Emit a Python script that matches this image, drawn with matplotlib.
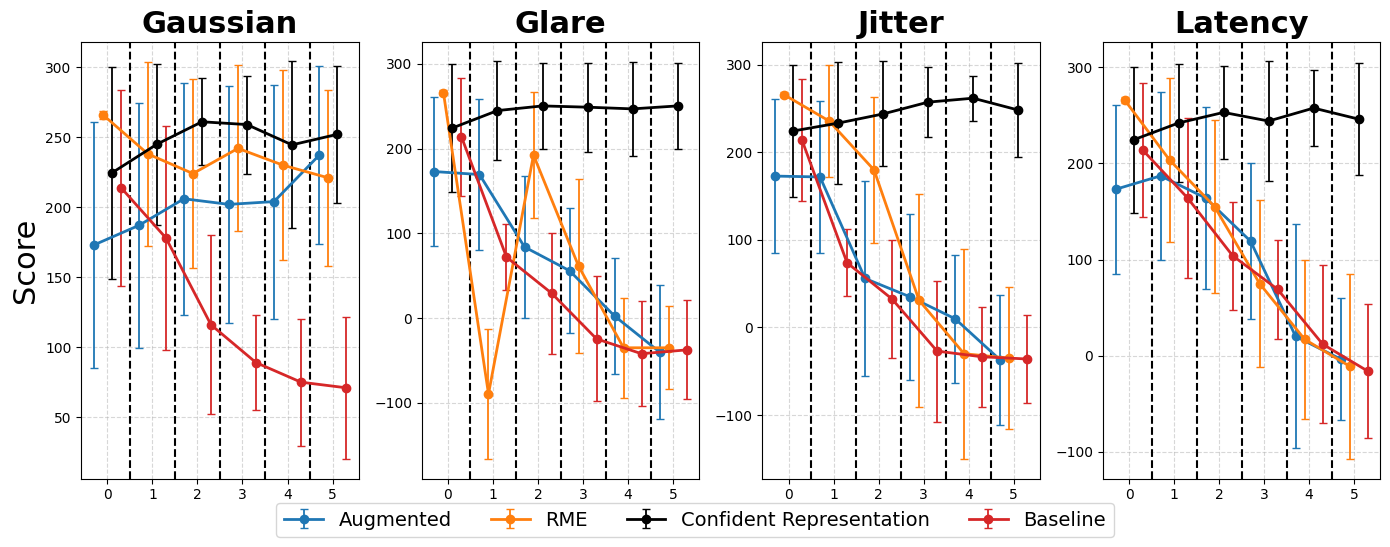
import numpy as np
import matplotlib
matplotlib.use("Agg")
import matplotlib.pyplot as plt

# ---------------- DATA ----------------
panels = ["Gaussian", "Glare", "Jitter", "Latency"]
methods = ["Augmented", "RME", "Confident Representation", "Baseline"]
colors = ["tab:blue", "tab:orange", "black", "tab:red"]
offsets = [-0.3, -0.1, 0.1, 0.3]
levels = [0, 1, 2, 3, 4, 5]

# means per panel, one row per method (same order as `methods`)
gaussian_mean = [
    [173, 187, 206, 202, 204, 237],
    [266, 238, 224, 242, 230, 221],
    [224.5, 245, 261, 259, 244.5, 252],
    [214, 178, 116, 89, 75, 71],
]
gaussian_err = [
    [88, 87.6, 83, 84.7, 83.6, 63.6],
    [3, 66, 67.6, 59.3, 68, 63],
    [75.6, 57.5, 31, 35, 59.6, 48.7],
    [70, 80, 63.8, 33.7, 45.4, 50.7],
]

glare_mean = [
    [173, 169.5, 84, 56, 2.5, -40],
    [266, -89.5, 192.5, 61.5, -35, -35],
    [224.5, 245, 250.5, 249, 247, 250.5],
    [214, 72, 29.5, -24.5, -42, -37.5],
]
glare_err = [
    [88, 89, 83.4, 74, 68.5, 79.6],
    [3, 76.5, 74.3, 103, 59, 49],
    [75.6, 58, 51, 52.5, 55.5, 51],
    [70, 39, 71.4, 73.7, 62, 58.4],
]

jitter_mean = [
    [173, 172, 56, 35, 10, -37],
    [266, 236, 180, 31, -30, -35],
    [224.5, 233.5, 244, 257.5, 262, 248.5],
    [214, 74, 32.5, -27, -33.5, -36],
]
jitter_err = [
    [88, 87, 111, 94.5, 73, 74],
    [3, 63.5, 83.4, 122, 120, 81.4],
    [75.6, 70, 60, 40, 25.7, 53.7],
    [70, 38.5, 67.5, 80.5, 57.3, 50.3],
]

latency_mean = [
    [173, 187, 164, 119, 20, -3.5],
    [266, 203.5, 155, 75, 17, -11],
    [224.5, 242, 253, 244, 257.5, 246],
    [214, 164, 104, 69, 12, -16],
]
latency_err = [
    [88, 87, 94.6, 81, 116.5, 63.5],
    [3, 85, 89.6, 86.5, 82.7, 96.2],
    [75.6, 61, 48, 62, 39.4, 58],
    [70, 83.5, 56, 51.8, 82, 69.5],
]

all_means = [gaussian_mean, glare_mean, jitter_mean, latency_mean]
all_errs = [gaussian_err, glare_err, jitter_err, latency_err]

# ---------------- PLOT ----------------
fig, axes = plt.subplots(1, 4, figsize=(13.9, 5.47), dpi=100)
fig.subplots_adjust(left=0.0585, right=0.993, top=0.924, bottom=0.125, wspace=0.228)

x = np.array(levels)
for ax, title, means, errs in zip(axes, panels, all_means, all_errs):
    for i, name in enumerate(methods):
        ax.errorbar(x + offsets[i], means[i], yerr=errs[i], label=name,
                    color=colors[i], marker='o', linewidth=2, elinewidth=1.3,
                    capsize=3, markersize=6)
    for b in np.arange(0.5, 5, 1.0):
        ax.axvline(b, color='black', linestyle='--', linewidth=1.5)
    ax.set_title(title, fontsize=22, fontweight='bold')
    ax.set_xticks(levels)
    ax.grid(True, linestyle='--', alpha=0.5)

axes[0].set_ylabel("Score", fontsize=22)

handles, labels = axes[0].get_legend_handles_labels()
fig.legend(handles, labels, loc='lower center', bbox_to_anchor=(0.5, 0.0),
           ncol=4, fontsize=14)

plt.savefig("out.png")
